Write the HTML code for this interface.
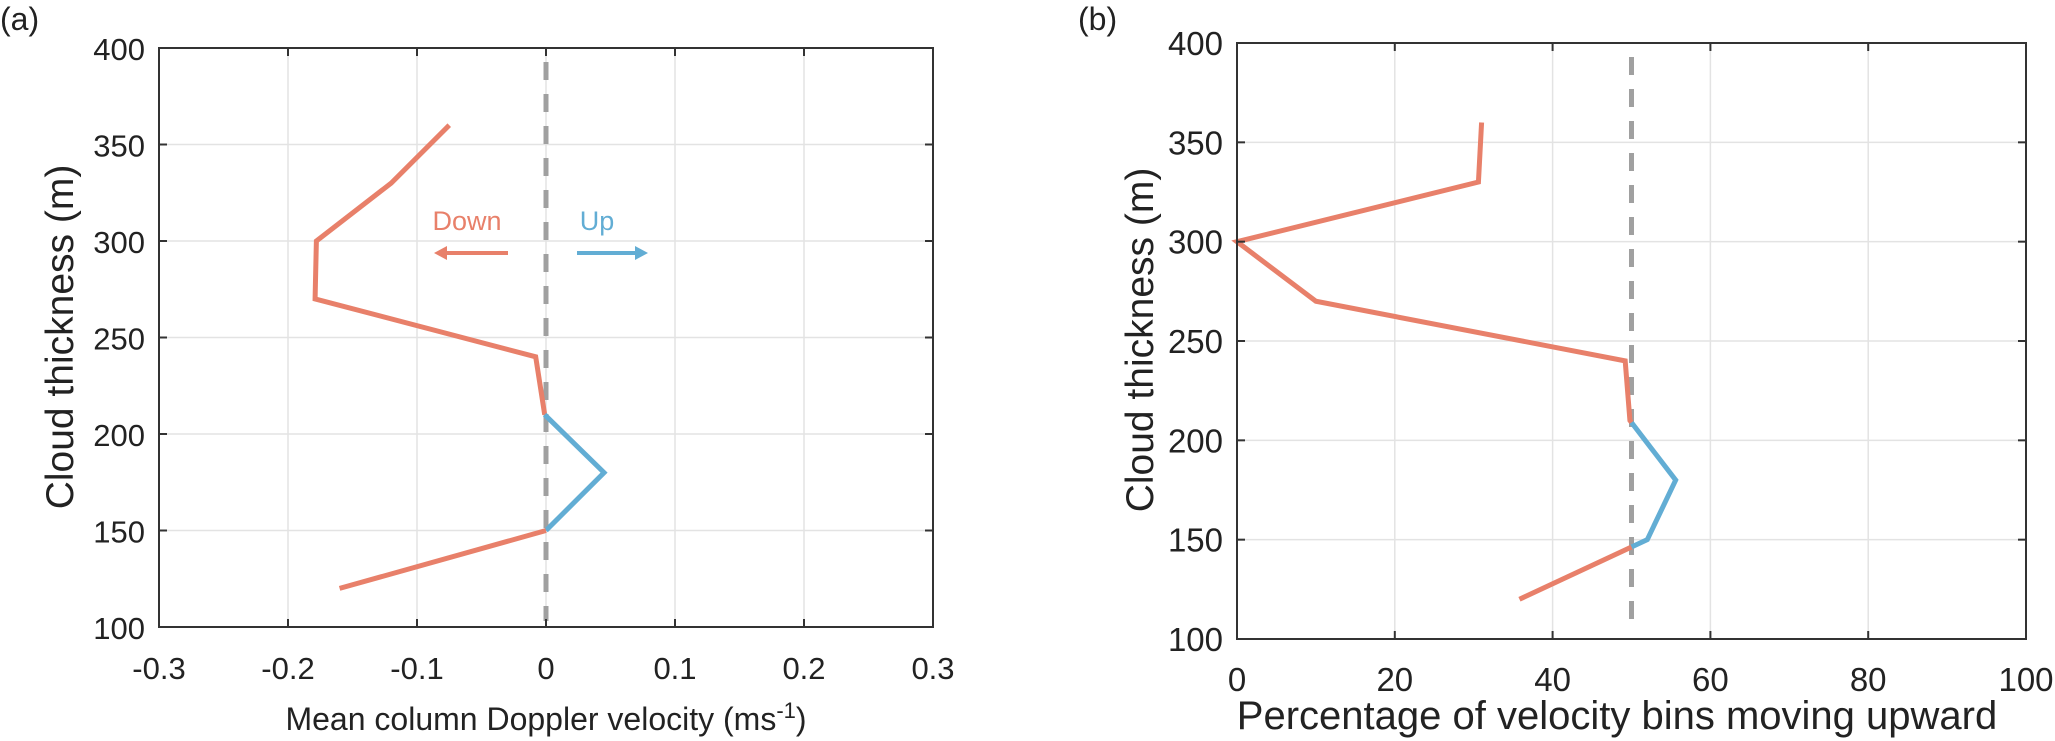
<!DOCTYPE html>
<html><head><meta charset="utf-8"><style>
html,body{margin:0;padding:0;background:#fff;}
svg{display:block;font-family:"Liberation Sans",Arial,sans-serif;}
</style></head><body>
<svg id="fig" width="2055" height="741" viewBox="0 0 2055 741"></svg>
<script>
// Panel (a) data
const heightsA = [360,330,300,270,240,210,180,150,120];
const velocityA = [-0.075,-0.12,-0.178,-0.179,-0.008,-0.001,0.045,0.0,-0.16];
const xTicksA = [-0.3,-0.2,-0.1,0,0.1,0.2,0.3];
const xTickLabelsA = ["-0.3","-0.2","-0.1","0","0.1","0.2","0.3"];
// Panel (b) data
const heightsB = [360,330,300,270,240,210,180,150,120];
const percentB = [31,30.6,0,10,49.2,49.8,55.6,52,35.8];
const xTicksB = [0,20,40,60,80,100];
const xTickLabelsB = ["0","20","40","60","80","100"];
const yTicks = [100,150,200,250,300,350,400];
const yTickLabels = ["100","150","200","250","300","350","400"];

const NS="http://www.w3.org/2000/svg";
const svg=document.getElementById('fig');
const RED="#E8806A", BLUE="#62ADD4";
function mk(tag,attrs,parent){const e=document.createElementNS(NS,tag);for(const k in attrs)e.setAttribute(k,attrs[k]);(parent||svg).appendChild(e);return e;}

function panel(o){
  const g=mk('g',{});
  
  
  const sx=v=>o.L+(v-o.xmin)/(o.xmax-o.xmin)*(o.R-o.L);
  const sy=v=>o.B-(v-100)/300*(o.B-o.T);
  o.xt.forEach(t=>{const l=mk('line',{x1:sx(t),x2:sx(t),y1:o.T,y2:o.B,stroke:'#e3e3e3','stroke-width':1.5},g);
    });
  yTicks.forEach(t=>{const l=mk('line',{x1:o.L,x2:o.R,y1:sy(t),y2:sy(t),stroke:'#e3e3e3','stroke-width':1.5},g);
    });
  const d=mk('line',{x1:sx(o.thr),x2:sx(o.thr),y1:o.T+14,y2:o.B-6,stroke:'#a0a0a0','stroke-width':5,'stroke-dasharray':'18,14'},g);
  
  const hs=o.h, vs=o.v;
  let segs=[];let cur=null;
  for(let i=0;i<hs.length;i++){
    const side=vs[i]>o.thr+1e-9?1:0;
    if(i===0){cur={side,pts:[[vs[0],hs[0]]]};continue;}
    const pside=cur.side;
    if(side!==pside && !(Math.abs(vs[i]-o.thr)<0.0011 || Math.abs(vs[i-1]-o.thr)<0.0011)){
      const f=(o.thr-vs[i-1])/(vs[i]-vs[i-1]);const hc=hs[i-1]+f*(hs[i]-hs[i-1]);
      cur.pts.push([o.thr,hc]);segs.push(cur);cur={side,pts:[[o.thr,hc],[vs[i],hs[i]]]};
    } else if(side!==pside){
      if(Math.abs(vs[i-1]-o.thr)<0.0011){segs.push(cur);cur={side,pts:[[vs[i-1],hs[i-1]],[vs[i],hs[i]]]};}
      else{cur.pts.push([vs[i],hs[i]]);segs.push(cur);cur={side,pts:[[vs[i],hs[i]]]};}
    } else cur.pts.push([vs[i],hs[i]]);
  }
  segs.push(cur);
  segs.forEach(s=>{if(s.pts.length<2)return;
    const p=mk('polyline',{points:s.pts.map(q=>sx(q[0])+','+sy(q[1])).join(' '),fill:'none',stroke:s.side?BLUE:RED,'stroke-width':5,'stroke-linejoin':'miter'},g);
    });
  const b=mk('rect',{x:o.L,y:o.T,width:o.R-o.L,height:o.B-o.T,fill:'none',stroke:'#333','stroke-width':2},g);
  
  o.xt.forEach((t,i)=>{
    mk('line',{x1:sx(t),x2:sx(t),y1:o.B,y2:o.B-8,stroke:'#333','stroke-width':2},g);
    mk('line',{x1:sx(t),x2:sx(t),y1:o.T,y2:o.T+8,stroke:'#333','stroke-width':2},g);
    const tx=mk('text',{x:sx(t),y:o.B+52,'font-size':o.fs,'text-anchor':'middle',fill:'#222'},g);
    tx.textContent=o.xl[i];
  });
  yTicks.forEach((t,i)=>{
    mk('line',{x1:o.L,x2:o.L+8,y1:sy(t),y2:sy(t),stroke:'#333','stroke-width':2},g);
    mk('line',{x1:o.R,x2:o.R-8,y1:sy(t),y2:sy(t),stroke:'#333','stroke-width':2},g);
    const tx=mk('text',{x:o.L-14,y:sy(t)+12,'font-size':o.fs,'text-anchor':'end',fill:'#222'},g);
    tx.textContent=yTickLabels[i];
  });
  const yl=mk('text',{x:0,y:0,'font-size':o.ylfs,'text-anchor':'middle',fill:'#222',transform:`translate(${o.ylx},${o.ylc}) rotate(-90)`},g);
  yl.textContent='Cloud thickness (m)';
  const xl=mk('text',{x:o.xlc,y:o.xly,'font-size':o.xlfs,'text-anchor':'middle',fill:'#222'},g);
  xl.innerHTML=o.xlabel;
  const pl=mk('text',{x:o.plx,y:o.ply,'font-size':32,fill:'#222'},g);
  pl.textContent=o.plabel;
  return {sx,sy,g};
}

const A=panel({name:'panel-a',L:159,R:933,T:48,B:627,xmin:-0.3,xmax:0.3,xt:xTicksA,xl:xTickLabelsA,h:heightsA,v:velocityA,thr:0,fs:31,xlfs:32,ylfs:39,ylx:73,ylc:337,xlc:546,xly:730,
  xlabel:'Mean column Doppler velocity (ms<tspan dy="-12" font-size="22">-1</tspan><tspan dy="12">)</tspan>',plabel:'(a)',plx:0,ply:30});
const B=panel({name:'panel-b',L:1237,R:2026,T:43,B:639,xmin:0,xmax:100,xt:xTicksB,xl:xTickLabelsB,h:heightsB,v:percentB,thr:50,fs:33,xlfs:40,ylfs:39,ylx:1153,ylc:340,xlc:1617,xly:729,
  xlabel:'Percentage of velocity bins moving upward',plabel:'(b)',plx:1078,ply:30});

const ag=mk('g',{});


const dt=mk('text',{x:467,y:230,'font-size':27,'text-anchor':'middle',fill:RED},ag);dt.textContent='Down';


const ut=mk('text',{x:597,y:230,'font-size':27,'text-anchor':'middle',fill:BLUE},ag);ut.textContent='Up';


const da=mk('line',{x1:508,x2:444,y1:253,y2:253,stroke:RED,'stroke-width':4},ag);


mk('polygon',{points:'434,253 447,246 447,260',fill:RED},ag);
const ua=mk('line',{x1:577,x2:638,y1:253,y2:253,stroke:BLUE,'stroke-width':4},ag);


mk('polygon',{points:'648,253 635,246 635,260',fill:BLUE},ag);
</script>
</body></html>
